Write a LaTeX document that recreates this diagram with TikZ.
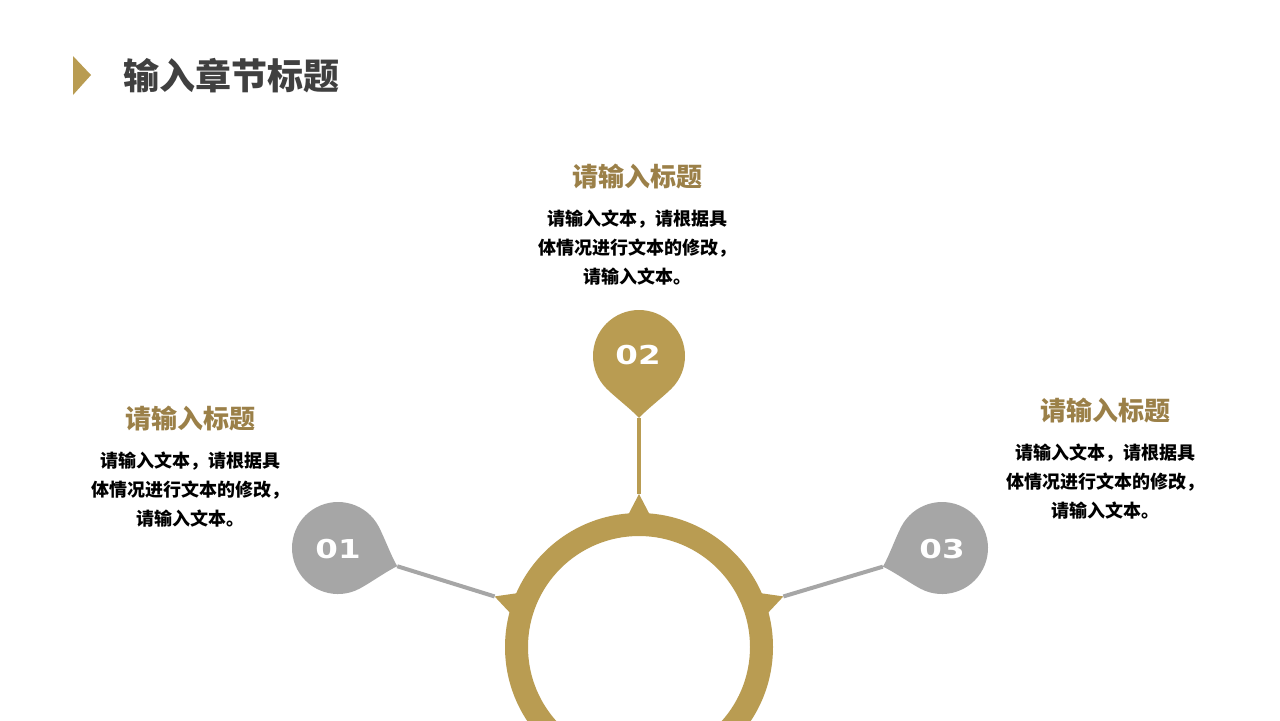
\documentclass[tikz,border=0pt]{standalone}
\usepackage{fontspec}
\usepackage{graphicx}
\usepackage{xcolor}
\usetikzlibrary{calc}

\newfontfamily\cjk{Noto Sans CJK SC}
\newfontfamily\numfont{DejaVu Sans}
\definecolor{gold}{RGB}{185,156,82}
\definecolor{darkgold}{RGB}{155,128,72}
\definecolor{pingray}{RGB}{166,166,166}
\definecolor{titlegray}{RGB}{64,64,64}

\tikzset{
  heading/.style = {text = darkgold, font = \cjk\bfseries\fontsize{13}{15}\selectfont},
  body/.style = {align = center, font = \cjk\bfseries\fontsize{9}{14.5}\selectfont},
  number/.style = {text = white, font = \numfont\bfseries\fontsize{13}{13}\selectfont}
}

% pin: centre, angle of tip, colour, name of tip
\newcommand{\drawpin}[4]{%
  \begin{scope}[shift = {#1}, rotate = #2]
    \fill [#3] (62, 0) .. controls (54, 7) and (41, 24) .. (45:46) arc (45:315:46)
      .. controls (41, -24) and (54, -7) .. cycle;
    \coordinate (#4) at (62, 0);
  \end{scope}}

\begin{document}
\begin{tikzpicture}[x = 0.5pt, y = -0.5pt]
\fill [white] (0, 0) rectangle (1280, 720);
\useasboundingbox (0, 0) rectangle (1280, 720);
\fill [gold] (73, 56) -- (91, 75) -- (73, 95) -- cycle;
\node [anchor = west, text = titlegray, font = \cjk\bfseries\fontsize{18}{20}\selectfont] (title) at (116, 76) {输入章节标题};
\coordinate (c) at (639, 647);
\fill [gold, even odd rule] (c) circle (134) (c) circle (111);
\foreach \a/\k in {-160.7/1, -90/2, -19.3/3} {
  \coordinate (apex\k) at ($(c) + (\a:153)$);
  \fill [gold] (apex\k) -- ($(c) + (\a + 6:128)$) -- ($(c) + (\a - 6:128)$) -- cycle;
}
\drawpin{(338, 548)}{-17.1}{pingray}{tip1}
\drawpin{(639, 356)}{-90}{gold}{tip2}
\drawpin{(942, 548)}{-162.5}{pingray}{tip3}
\draw [pingray, line width = 2pt] (tip1) -- (apex1);
\draw [gold, line width = 1.75pt] (tip2) -- (apex2);
\draw [pingray, line width = 2pt] (tip3) -- (apex3);
\node [number] (n1) at (338, 549) {\scalebox{1.25}[1]{01}};
\node [number] (n2) at (638, 355) {\scalebox{1.25}[1]{02}};
\node [number] (n3) at (942, 549) {\scalebox{1.25}[1]{03}};
\node [heading] (head1) at (190, 419) {请输入标题};
\node [body] (text1) at (190, 490) {请输入文本，请根据具\\体情况进行文本的修改，\\请输入文本。};
\node [heading] (head2) at (637, 177) {请输入标题};
\node [body] (text2) at (637, 248) {请输入文本，请根据具\\体情况进行文本的修改，\\请输入文本。};
\node [heading] (head3) at (1105, 411) {请输入标题};
\node [body] (text3) at (1105, 482) {请输入文本，请根据具\\体情况进行文本的修改，\\请输入文本。};
\end{tikzpicture}
\end{document}
